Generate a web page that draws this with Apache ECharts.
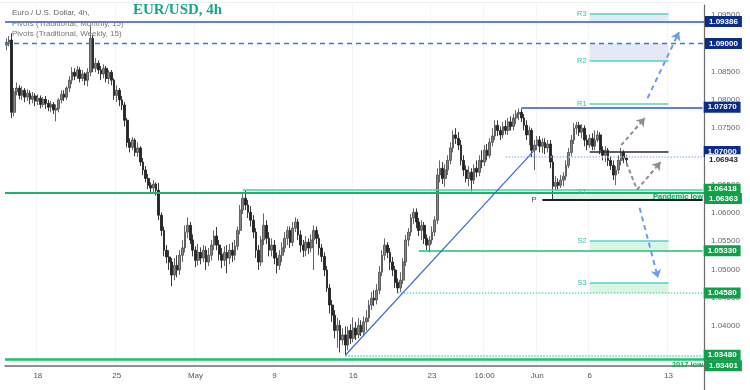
<!DOCTYPE html>
<html><head><meta charset="utf-8">
<script src="https://cdn.jsdelivr.net/npm/echarts@6/dist/echarts.min.js"></script>
<style>html,body{margin:0;padding:0;background:#fff}#c{width:750px;height:390px}</style>
</head><body><div id="c"></div>
<script>
// ---- DATA ----
const slotCount = 266; // 4h slots shown (incl. future space)
const xTickIndex = [12, 42, 72, 102, 132, 162, 182, 202, 222, 252];
const xTickText = ['18', '25', 'May', '9', '16', '23', '16:00', 'Jun', '6', '13'];
const yTicks = [1.035, 1.04, 1.045, 1.05, 1.055, 1.06, 1.065, 1.07, 1.075, 1.08, 1.085, 1.09, 1.095];
// [open, close, low, high]
const candles = [
[1.0897,1.0902,1.0888,1.0909],[1.0902,1.0906,1.0895,1.0913],[1.0906,1.0778,1.0768,1.0918],[1.0778,1.0814,1.0771,1.0821],
[1.0814,1.0821,1.0808,1.0831],[1.0821,1.0808,1.0801,1.0826],[1.0808,1.0817,1.0800,1.0824],[1.0817,1.0805,1.0796,1.0821],
[1.0805,1.0812,1.0798,1.0819],[1.0812,1.0801,1.0792,1.0817],[1.0801,1.0807,1.0794,1.0814],[1.0807,1.0798,1.0789,1.0812],
[1.0798,1.0803,1.0791,1.0810],[1.0803,1.0792,1.0785,1.0808],[1.0792,1.0801,1.0787,1.0805],[1.0801,1.0794,1.0784,1.0807],
[1.0794,1.0787,1.0780,1.0800],[1.0787,1.0792,1.0778,1.0798],[1.0792,1.0782,1.0775,1.0796],[1.0782,1.0785,1.0762,1.0792],
[1.0785,1.0800,1.0778,1.0803],[1.0800,1.0810,1.0794,1.0817],[1.0810,1.0805,1.0798,1.0817],[1.0805,1.0821,1.0800,1.0824],
[1.0821,1.0835,1.0814,1.0842],[1.0835,1.0849,1.0828,1.0858],[1.0849,1.0842,1.0835,1.0856],[1.0842,1.0853,1.0837,1.0860],
[1.0853,1.0838,1.0831,1.0858],[1.0838,1.0846,1.0833,1.0853],[1.0846,1.0835,1.0826,1.0849],[1.0835,1.0849,1.0824,1.0856],
[1.0849,1.0909,1.0842,1.0932],[1.0909,1.0856,1.0849,1.0915],[1.0856,1.0865,1.0849,1.0874],[1.0865,1.0853,1.0846,1.0870],
[1.0853,1.0846,1.0835,1.0860],[1.0846,1.0856,1.0838,1.0863],[1.0856,1.0838,1.0831,1.0860],[1.0838,1.0849,1.0828,1.0853],
[1.0849,1.0835,1.0826,1.0853],[1.0835,1.0808,1.0800,1.0838],[1.0808,1.0817,1.0796,1.0826],[1.0817,1.0800,1.0789,1.0821],
[1.0800,1.0791,1.0782,1.0807],[1.0791,1.0764,1.0753,1.0796],[1.0764,1.0725,1.0716,1.0768],[1.0725,1.0716,1.0707,1.0732],
[1.0716,1.0729,1.0711,1.0734],[1.0729,1.0707,1.0700,1.0732],[1.0707,1.0715,1.0699,1.0725],[1.0715,1.0690,1.0683,1.0718],
[1.0690,1.0676,1.0667,1.0697],[1.0676,1.0661,1.0654,1.0683],[1.0661,1.0649,1.0642,1.0669],[1.0649,1.0644,1.0635,1.0654],
[1.0644,1.0651,1.0637,1.0658],[1.0651,1.0640,1.0631,1.0654],[1.0640,1.0596,1.0587,1.0653],[1.0596,1.0569,1.0559,1.0601],
[1.0569,1.0534,1.0523,1.0576],[1.0534,1.0522,1.0511,1.0543],[1.0522,1.0513,1.0499,1.0534],[1.0513,1.0490,1.0470,1.0520],
[1.0490,1.0507,1.0481,1.0520],[1.0507,1.0499,1.0486,1.0525],[1.0499,1.0525,1.0490,1.0534],[1.0525,1.0538,1.0513,1.0552],
[1.0538,1.0566,1.0530,1.0578],[1.0566,1.0578,1.0555,1.0592],[1.0578,1.0552,1.0545,1.0584],[1.0552,1.0534,1.0523,1.0562],
[1.0534,1.0516,1.0504,1.0541],[1.0516,1.0530,1.0507,1.0545],[1.0530,1.0520,1.0509,1.0539],[1.0520,1.0534,1.0513,1.0543],
[1.0534,1.0513,1.0499,1.0541],[1.0513,1.0525,1.0506,1.0538],[1.0525,1.0543,1.0516,1.0552],[1.0543,1.0559,1.0534,1.0569],
[1.0559,1.0543,1.0534,1.0575],[1.0543,1.0527,1.0516,1.0552],[1.0527,1.0516,1.0502,1.0538],[1.0516,1.0530,1.0506,1.0541],
[1.0530,1.0520,1.0493,1.0543],[1.0520,1.0534,1.0509,1.0545],[1.0534,1.0525,1.0513,1.0548],[1.0525,1.0541,1.0516,1.0552],
[1.0541,1.0569,1.0534,1.0576],[1.0569,1.0605,1.0562,1.0614],[1.0605,1.0626,1.0598,1.0633],[1.0626,1.0614,1.0605,1.0640],
[1.0614,1.0601,1.0591,1.0623],[1.0601,1.0587,1.0576,1.0612],[1.0587,1.0566,1.0555,1.0596],[1.0566,1.0534,1.0520,1.0573],
[1.0534,1.0513,1.0499,1.0543],[1.0513,1.0552,1.0506,1.0559],[1.0552,1.0578,1.0543,1.0599],[1.0578,1.0555,1.0545,1.0587],
[1.0555,1.0534,1.0523,1.0566],[1.0534,1.0543,1.0523,1.0555],[1.0543,1.0520,1.0509,1.0552],[1.0520,1.0507,1.0493,1.0530],
[1.0507,1.0525,1.0499,1.0534],[1.0525,1.0538,1.0513,1.0548],[1.0538,1.0555,1.0530,1.0566],[1.0555,1.0569,1.0543,1.0576],
[1.0569,1.0548,1.0538,1.0576],[1.0548,1.0573,1.0541,1.0584],[1.0573,1.0584,1.0566,1.0592],[1.0584,1.0561,1.0552,1.0589],
[1.0561,1.0543,1.0530,1.0569],[1.0543,1.0534,1.0522,1.0552],[1.0534,1.0548,1.0523,1.0559],[1.0548,1.0538,1.0527,1.0555],
[1.0538,1.0552,1.0530,1.0562],[1.0552,1.0569,1.0499,1.0578],[1.0569,1.0555,1.0545,1.0576],[1.0555,1.0538,1.0525,1.0562],
[1.0538,1.0523,1.0513,1.0545],[1.0523,1.0499,1.0488,1.0530],[1.0499,1.0467,1.0460,1.0506],[1.0467,1.0437,1.0422,1.0474],
[1.0437,1.0419,1.0407,1.0446],[1.0419,1.0392,1.0378,1.0428],[1.0392,1.0401,1.0361,1.0414],[1.0401,1.0375,1.0353,1.0410],
[1.0375,1.0384,1.0366,1.0396],[1.0384,1.0366,1.0348,1.0399],[1.0366,1.0392,1.0357,1.0399],[1.0392,1.0378,1.0368,1.0403],
[1.0378,1.0396,1.0371,1.0415],[1.0396,1.0384,1.0375,1.0407],[1.0384,1.0401,1.0378,1.0414],[1.0401,1.0389,1.0382,1.0410],
[1.0389,1.0407,1.0384,1.0417],[1.0407,1.0414,1.0392,1.0428],[1.0414,1.0437,1.0407,1.0446],[1.0437,1.0449,1.0428,1.0460],
[1.0449,1.0446,1.0435,1.0463],[1.0446,1.0463,1.0438,1.0474],[1.0463,1.0495,1.0456,1.0506],[1.0495,1.0525,1.0488,1.0534],
[1.0525,1.0543,1.0516,1.0555],[1.0543,1.0530,1.0520,1.0548],[1.0530,1.0513,1.0499,1.0538],[1.0513,1.0499,1.0488,1.0522],
[1.0499,1.0477,1.0467,1.0506],[1.0477,1.0467,1.0458,1.0484],[1.0467,1.0481,1.0460,1.0495],[1.0481,1.0513,1.0474,1.0520],
[1.0513,1.0552,1.0506,1.0561],[1.0552,1.0566,1.0541,1.0573],[1.0566,1.0591,1.0559,1.0598],[1.0591,1.0601,1.0580,1.0608],
[1.0601,1.0584,1.0573,1.0608],[1.0584,1.0569,1.0559,1.0591],[1.0569,1.0578,1.0552,1.0587],[1.0578,1.0555,1.0545,1.0584],
[1.0555,1.0543,1.0534,1.0562],[1.0543,1.0552,1.0530,1.0559],[1.0552,1.0566,1.0545,1.0576],[1.0566,1.0587,1.0559,1.0594],
[1.0587,1.0667,1.0580,1.0679],[1.0667,1.0679,1.0654,1.0693],[1.0679,1.0661,1.0651,1.0690],[1.0661,1.0676,1.0646,1.0686],
[1.0676,1.0693,1.0667,1.0702],[1.0693,1.0715,1.0686,1.0725],[1.0715,1.0738,1.0707,1.0746],[1.0738,1.0732,1.0722,1.0750],
[1.0732,1.0720,1.0711,1.0743],[1.0720,1.0693,1.0684,1.0729],[1.0693,1.0676,1.0665,1.0702],[1.0676,1.0661,1.0654,1.0684],
[1.0661,1.0672,1.0647,1.0683],[1.0672,1.0658,1.0638,1.0679],[1.0658,1.0679,1.0651,1.0686],[1.0679,1.0672,1.0663,1.0693],
[1.0672,1.0693,1.0665,1.0702],[1.0693,1.0690,1.0679,1.0711],[1.0690,1.0711,1.0683,1.0720],[1.0711,1.0702,1.0693,1.0722],
[1.0702,1.0725,1.0697,1.0732],[1.0725,1.0736,1.0718,1.0750],[1.0736,1.0755,1.0729,1.0764],[1.0755,1.0746,1.0736,1.0764],
[1.0746,1.0738,1.0729,1.0753],[1.0738,1.0753,1.0732,1.0761],[1.0753,1.0746,1.0739,1.0764],[1.0746,1.0761,1.0738,1.0768],
[1.0761,1.0753,1.0746,1.0771],[1.0753,1.0768,1.0746,1.0775],[1.0768,1.0775,1.0757,1.0782],[1.0775,1.0778,1.0764,1.0785],
[1.0778,1.0768,1.0761,1.0785],[1.0768,1.0755,1.0746,1.0775],[1.0755,1.0738,1.0729,1.0764],[1.0738,1.0746,1.0720,1.0753],
[1.0746,1.0711,1.0699,1.0750],[1.0711,1.0720,1.0676,1.0729],[1.0720,1.0729,1.0711,1.0736],[1.0729,1.0718,1.0707,1.0736],
[1.0718,1.0725,1.0706,1.0732],[1.0725,1.0715,1.0704,1.0732],[1.0715,1.0722,1.0707,1.0729],[1.0722,1.0690,1.0679,1.0729],
[1.0690,1.0647,1.0623,1.0702],[1.0647,1.0654,1.0640,1.0665],[1.0654,1.0649,1.0640,1.0661],[1.0649,1.0658,1.0644,1.0667],
[1.0658,1.0665,1.0647,1.0672],[1.0665,1.0684,1.0658,1.0693],[1.0684,1.0707,1.0679,1.0715],[1.0707,1.0729,1.0700,1.0738],
[1.0729,1.0750,1.0722,1.0759],[1.0750,1.0755,1.0739,1.0761],[1.0755,1.0743,1.0736,1.0761],[1.0743,1.0750,1.0732,1.0757],
[1.0750,1.0729,1.0718,1.0755],[1.0729,1.0720,1.0711,1.0738],[1.0720,1.0732,1.0715,1.0739],[1.0732,1.0718,1.0711,1.0741],
[1.0718,1.0729,1.0711,1.0746],[1.0729,1.0738,1.0725,1.0746],[1.0738,1.0711,1.0704,1.0743],[1.0711,1.0702,1.0693,1.0718],
[1.0702,1.0711,1.0690,1.0718],[1.0711,1.0693,1.0683,1.0715],[1.0693,1.0684,1.0676,1.0700],[1.0684,1.0667,1.0658,1.0693],
[1.0667,1.0676,1.0649,1.0683],[1.0676,1.0693,1.0669,1.0702],[1.0693,1.0707,1.0684,1.0715],[1.0707,1.0697,1.0688,1.0711],
[1.0697,1.0694,1.0684,1.0702]
];
// horizontal levels
const monthlyHigh = 1.09386, roundLevel = 1.09, mayHigh = 1.0787, level107 = 1.07, lastPrice = 1.06943;
const level1064 = 1.06418, pandemicLow = 1.06363, level1053 = 1.0533, level1046 = 1.0458, mayLow = 1.0348, low2017 = 1.03401;
// pivots
const weeklyPivotNames = ['R3', 'R2', 'R1', 'S1', 'S2', 'S3'];
const weeklyPivotValues = [1.0952, 1.0869, 1.0793, 1.0637, 1.0550, 1.0476];
const weeklyP = 1.0709, monthlyP = 1.0623;
const weekStart = 222, weekEnd = 252, monthStart = 204, lastSlot = 265;
// drawings
const trendFrom = [129, 1.0348], trendTo = [201, 1.0711];
const grayArrowUp = [[234, 1.0720], [243, 1.0768]];
const grayArrowPath = [[236, 1.0688], [240, 1.0641], [249, 1.0690]];
const blueArrowUp = [[244, 1.0803], [256, 1.0920]];
const blueArrowDown = [[241, 1.0609], [248, 1.0485]];

// ---- CHART ----
const categories = [];
for (let i = 0; i < slotCount; i++) categories.push('s' + i);
const tickMap = {};
xTickIndex.forEach((k, j) => tickMap[k] = xTickText[j]);

const NAVY = '#0c2c88', GREEN = '#11a04a', TEAL = '#2fc4b2', PIV = '#4fd6c5', CLEAR = 'rgba(0,0,0,0)';
function box(txt, bg, fg, off) {
  return { show: true, position: 'end', formatter: txt, backgroundColor: bg, color: fg || '#fff',
    fontSize: 8, fontWeight: 'bold', fontFamily: 'Arial', padding: [2, 4, 1, 4], distance: 1,
    offset: off || [0, 0] };
}
function full(v, color, width, type, label) {
  return { yAxis: v, lineStyle: { color, width, type }, label: label || { show: false } };
}
function seg(x1, x2, v, color, width, type, label) {
  return [{ coord: [x1, v], lineStyle: { color, width, type }, label: label || { show: false } }, { coord: [x2, v] }];
}
function line(a, b, color, type, arrow) {
  return [{ coord: a, lineStyle: { color, width: 2, type }, label: { show: false }, symbol: 'none' },
          { coord: b, symbol: arrow ? 'arrow' : 'none', symbolSize: 8 }];
}
const noteLabel = (txt) => ({ show: true, position: 'insideEndBottom', formatter: txt, color: '#17a65c',
  fontSize: 7.5, fontWeight: 'bold', fontFamily: 'Arial', distance: 1 });
const mlData = [
  full(monthlyHigh, '#5f80d4', 2, 'solid', box('1.09386', NAVY)),
  full(roundLevel, '#4274e0', 1.3, [5, 4], box('1.09000', NAVY)),
  seg(196, lastSlot, mayHigh, '#5f80d4', 1.8, 'solid', box('1.07870', NAVY)),
  seg(190, lastSlot, level107, '#a9bff0', 1.5, 'dotted', box('1.07000', NAVY, '#fff', [0, -5])),
  full(lastPrice, CLEAR, 0, 'solid', box('1.06943', '#ffffff', '#222')),
  seg(90, lastSlot, level1064, '#3fd69c', 1.5, 'solid', box('1.06418', GREEN)),
  full(pandemicLow, '#1db36d', 1.8, 'solid', box('1.06363', GREEN, '#fff', [0, 6])),
  full(pandemicLow, CLEAR, 0, 'solid', noteLabel('Pandemic low')),
  seg(157, lastSlot, level1053, '#1fbf72', 1.5, 'solid', box('1.05330', GREEN)),
  seg(149, lastSlot, level1046, '#6edcab', 1.5, 'dotted', box('1.04580', GREEN)),
  seg(129, lastSlot, mayLow, '#5ed6a0', 1.5, 'dotted', box('1.03480', GREEN)),
  full(low2017, '#14c46e', 2.5, 'solid', box('1.03401', GREEN, '#fff', [0, 6])),
  full(low2017, CLEAR, 0, 'solid', noteLabel('2017 low')),
  seg(monthStart, lastSlot, monthlyP, '#1e1e1e', 2, 'solid', { show: true, position: 'start', formatter: 'P', color: '#444', fontSize: 7.5, fontFamily: 'Arial', distance: 6 }),
  seg(weekStart, weekEnd, weeklyP, '#2b2b2b', 1.5, 'solid'),
  [{ coord: trendFrom, lineStyle: { color: '#3b6bd6', width: 1.2, type: 'solid' }, label: { show: false } }, { coord: trendTo }],
  line(grayArrowUp[0], grayArrowUp[1], '#8e8e8e', [4, 3], true),
  line(grayArrowPath[0], grayArrowPath[1], '#8e8e8e', [4, 3], false),
  line(grayArrowPath[1], grayArrowPath[2], '#8e8e8e', [4, 3], true),
  line(blueArrowUp[0], blueArrowUp[1], '#6d9bf0', [5, 4], true),
  line(blueArrowDown[0], blueArrowDown[1], '#6d9bf0', [5, 4], true)
];
weeklyPivotNames.forEach((n, j) => {
  const isS1 = n === 'S1';
  mlData.push(seg(weekStart, weekEnd, weeklyPivotValues[j], isS1 ? CLEAR : PIV, 1.5, 'solid',
    { show: true, position: 'start', formatter: n, color: TEAL, fontSize: 7.5, fontFamily: 'Arial', distance: 3 }));
});
const zoneBlue = '#e4e9f7', zoneGreen = '#daf4e6';
const maData = [
  [{ coord: [weekStart, monthlyHigh], itemStyle: { color: zoneBlue } }, { coord: [weekEnd, weeklyPivotValues[0]] }],
  [{ coord: [weekStart, weeklyPivotValues[1]], itemStyle: { color: zoneBlue } }, { coord: [weekEnd, roundLevel] }],
  [{ coord: [208, monthlyP], itemStyle: { color: zoneGreen } }, { coord: [lastSlot, pandemicLow] }],
  [{ coord: [weekStart, level1053], itemStyle: { color: zoneGreen } }, { coord: [weekEnd, weeklyPivotValues[4]] }],
  [{ coord: [weekStart, level1046], itemStyle: { color: zoneGreen } }, { coord: [weekEnd, weeklyPivotValues[5]] }]
];

const chart = echarts.init(document.getElementById('c'), null, { renderer: 'canvas' });
chart.setOption({
  animation: false,
  backgroundColor: '#ffffff',
  grid: { left: 5, right: 46, top: 5, bottom: 24 },
  xAxis: {
    type: 'category', data: categories, boundaryGap: true,
    axisLine: { lineStyle: { color: '#6b6b6b', width: 1.5 } },
    axisTick: { show: false },
    axisLabel: { interval: (i) => tickMap[i] !== undefined, formatter: (v, i) => tickMap[i] || '',
      color: '#555', fontSize: 8, fontFamily: 'Arial', margin: 6 },
    splitLine: { show: true, interval: (i) => tickMap[i] !== undefined, lineStyle: { color: '#ececec', type: 'dotted' } }
  },
  yAxis: {
    type: 'value', position: 'right', scale: true, min: 1.0329, max: 1.0968,
    axisLine: { show: true, lineStyle: { color: '#6b6b6b', width: 1.2 } },
    axisTick: { show: false, customValues: yTicks },
    axisLabel: { customValues: yTicks, formatter: (v) => v.toFixed(5), color: '#666', fontSize: 8, fontFamily: 'Arial', margin: 7 },
    splitLine: { show: false }
  },
  graphic: [
    { type: 'line', shape: { x1: 704.5, y1: 366, x2: 704.5, y2: 390 }, style: { stroke: '#6b6b6b', lineWidth: 1.2 } },
    { type: 'line', shape: { x1: 0, y1: 2.5, x2: 704, y2: 2.5 }, style: { stroke: '#eeeeee', lineWidth: 1 } },
    { type: 'text', left: 12, top: 9, z: 10, style: { text: 'Euro / U.S. Dollar, 4h,', fill: '#666', font: '8px Arial' } },
    { type: 'text', left: 12, top: 20, z: 10, style: { text: 'Pivots (Traditional, Monthly, 15)', fill: '#777', font: '8px Arial' } },
    { type: 'text', left: 12, top: 30, z: 10, style: { text: 'Pivots (Traditional, Weekly, 15)', fill: '#777', font: '8px Arial' } },
    { type: 'text', left: 133, top: 3, z: 10, style: { text: 'EUR/USD, 4h', fill: '#17a68a', font: 'bold 15px "Liberation Serif", serif' } }
  ],
  series: [{
    type: 'candlestick', data: candles, barWidth: 2.3,
    itemStyle: { color: '#858585', color0: '#252525', borderColor: '#555555', borderColor0: '#252525', borderWidth: 0.9 },
    markArea: { silent: true, data: maData },
    markLine: { silent: true, symbol: ['none', 'none'], precision: 5, data: mlData }
  }]
});
</script></body></html>
